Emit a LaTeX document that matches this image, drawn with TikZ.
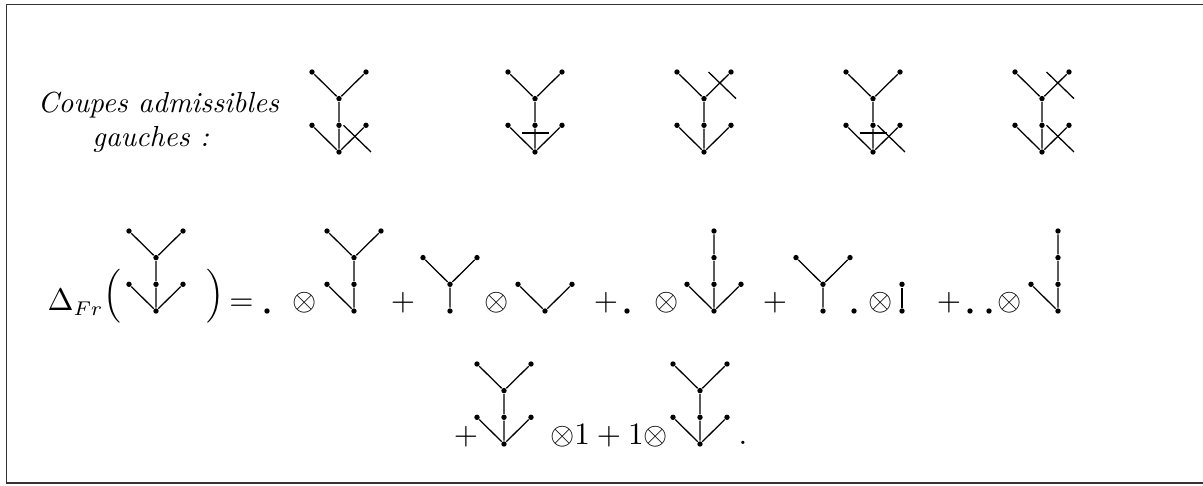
\documentclass[tikz,border=0pt]{standalone}
\usepackage{amsmath,amssymb}
\usepackage{tikz}
\usetikzlibrary{calc}
\tikzset{
  treevtx/.style={circle,fill=black,inner sep=0pt,minimum size=1.9pt},
  treeline/.style={line width=0.45pt},
  cutline/.style={line width=0.45pt},
  framel/.style={line width=0.6pt,draw=black!80},
  mathsym/.style={anchor=base,inner sep=0pt,font=\fontsize{10.5}{13}\selectfont},
  textlbl/.style={anchor=base,inner sep=0pt,font=\fontsize{10.2}{12.5}\selectfont\itshape},
  % the tree that is cut, and the pieces that come out of it
  fulltree/.pic={
    \node[treevtx] (-r) at (0,0) {};
    \node[treevtx] (-l) at (-27,-26.7) {};
    \node[treevtx] (-m) at (0,-26.7) {};
    \node[treevtx] (-d) at (27,-26.7) {};
    \node[treevtx] (-j) at (0,-53.4) {};
    \node[treevtx] (-a) at (-27,-80) {};
    \node[treevtx] (-b) at (27,-80) {};
    \draw[treeline] (-l) -- (-r) -- (-d) (-r) -- (-m) -- (-j) (-a) -- (-j) -- (-b);
  },
  lefttree/.pic={
    \node[treevtx] (-r) at (0,0) {};
    \node[treevtx] (-l) at (-27,-26.7) {};
    \node[treevtx] (-m) at (0,-26.7) {};
    \node[treevtx] (-j) at (0,-53.4) {};
    \node[treevtx] (-a) at (-27,-80) {};
    \node[treevtx] (-b) at (27,-80) {};
    \draw[treeline] (-l) -- (-r) -- (-m) -- (-j) (-a) -- (-j) -- (-b);
  },
  ytree/.pic={
    \node[treevtx] (-r) at (0,0) {};
    \node[treevtx] (-j) at (0,-26.7) {};
    \node[treevtx] (-a) at (-27,-53.4) {};
    \node[treevtx] (-b) at (27,-53.4) {};
    \draw[treeline] (-r) -- (-j) (-a) -- (-j) -- (-b);
  },
  vtree/.pic={
    \node[treevtx] (-r) at (0,0) {};
    \node[treevtx] (-a) at (-27,-26.7) {};
    \node[treevtx] (-b) at (27,-26.7) {};
    \draw[treeline] (-a) -- (-r) -- (-b);
  },
  stemtree/.pic={
    \node[treevtx] (-r) at (0,0) {};
    \node[treevtx] (-l) at (-27,-26.7) {};
    \node[treevtx] (-m) at (0,-26.7) {};
    \node[treevtx] (-d) at (27,-26.7) {};
    \node[treevtx] (-j) at (0,-53.4) {};
    \node[treevtx] (-t) at (0,-80) {};
    \draw[treeline] (-l) -- (-r) -- (-d) (-r) -- (-m) -- (-j) -- (-t);
  },
  bartree/.pic={
    \node[treevtx] (-r) at (0,0) {};
    \node[treevtx] (-t) at (0,-26.7) {};
    \draw[treeline] (-r) -- (-t);
  },
  hooktree/.pic={
    \node[treevtx] (-r) at (0,0) {};
    \node[treevtx] (-l) at (-27,-26.7) {};
    \node[treevtx] (-m) at (0,-26.7) {};
    \node[treevtx] (-j) at (0,-53.4) {};
    \node[treevtx] (-t) at (0,-80) {};
    \draw[treeline] (-l) -- (-r) -- (-m) -- (-j) -- (-t);
  }
}
\begin{document}
\begin{tikzpicture}[x=0.3515pt,y=-0.3515pt]
  \useasboundingbox (0,0) rectangle (1203,486);
  \draw[framel] (1203,4.5) -- (6.5,4.5) -- (6.5,483) -- (1203,483);

  % admissible cuts
  \node[textlbl] (lbl1) at (158.5,113) {Coupes admissibles};
  \node[textlbl] (lbl2) at (150.7,147) {gauches :};

  \pic (t1) at (339,152) {fulltree};
  \pic (t2) at (535,152) {fulltree};
  \pic (t3) at (704,152) {fulltree};
  \pic (t4) at (873,152) {fulltree};
  \pic (t5) at (1042,152) {fulltree};

  \draw[cutline] ($(t1-m)+(4.5,0)$) -- ($(t1-r)+(32,0)$);
  \draw[cutline] ($(t2-m)+(-13.5,7.7)$) -- ($(t2-m)+(13.5,7.7)$);
  \draw[cutline] ($(t3-j)+(4.5,-26.6)$) -- ($(t3-j)+(32,0)$);
  \draw[cutline] ($(t4-m)+(-13.5,7.7)$) -- ($(t4-m)+(13.5,7.7)$);
  \draw[cutline] ($(t4-m)+(4.5,0)$) -- ($(t4-r)+(32,0)$);
  \draw[cutline] ($(t5-j)+(4.5,-26.6)$) -- ($(t5-j)+(32,0)$);
  \draw[cutline] ($(t5-m)+(4.5,0)$) -- ($(t5-r)+(32,0)$);

  % coproduct, first line
  \node[mathsym,anchor=base west] (delta) at (47,311) {$\Delta_{Fr}$};
  \node[mathsym] (lpar) at (112.5,304) {$\Big($};
  \pic (c0) at (156,311) {fulltree};
  \node[mathsym] (rpar) at (215,304) {$\Big)$};
  \node[mathsym] (eq) at (241.5,311) {$=$};
  \node[treevtx] (p0) at (267,311) {};
  \node[mathsym] (o1) at (305,311) {$\otimes$};
  \pic (c1) at (354,311) {lefttree};
  \node[mathsym] (s1) at (403,311) {$+$};
  \pic (c2) at (450,311) {ytree};
  \node[mathsym] (o2) at (497,311) {$\otimes$};
  \pic (c3) at (545,311) {vtree};
  \node[mathsym] (s2) at (606,311) {$+$};
  \node[treevtx] (p1) at (627,311) {};
  \node[mathsym] (o3) at (667,311) {$\otimes$};
  \pic (c4) at (714,311) {stemtree};
  \node[mathsym] (s3) at (775,311) {$+$};
  \pic (c5) at (823,311) {ytree};
  \node[treevtx] (p2) at (854,311) {};
  \node[mathsym] (o4) at (881,311) {$\otimes$};
  \pic (c6) at (902,311) {bartree};
  \node[mathsym] (s4) at (949,311) {$+$};
  \node[treevtx] (p3) at (970,311) {};
  \node[treevtx] (p4) at (989,311) {};
  \node[mathsym] (o5) at (1010,311) {$\otimes$};
  \pic (c7) at (1058,311) {hooktree};

  % second line
  \node[mathsym] (s5) at (466,444) {$+$};
  \pic (c8) at (504,444) {fulltree};
  \node[mathsym] (unit) at (609,444) {$\otimes1+1\otimes$};
  \pic (c9) at (700,444) {fulltree};
  \node[mathsym] (stop) at (743,444) {$.$};
\end{tikzpicture}
\end{document}
